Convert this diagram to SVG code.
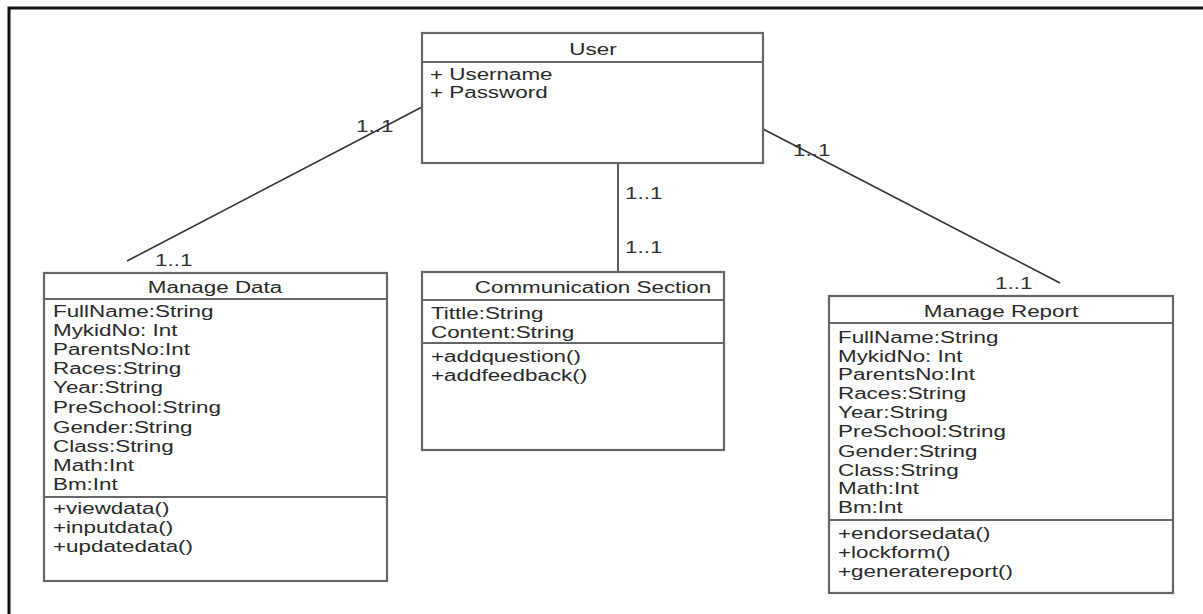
<svg xmlns="http://www.w3.org/2000/svg" width="1203" height="614" viewBox="0 0 1203 614">
<style>
  text { font-family: "Liberation Sans", Arial, sans-serif; font-size: 16px; fill: #2a2a2a; }
  .title { text-anchor: middle; }
  .box { fill: #ffffff; stroke: #666666; stroke-width: 2.2; }
  .sep { stroke: #666666; stroke-width: 2.2; fill: none; }
  .conn { stroke: #333333; stroke-width: 1.6; fill: none; }
  .mult { fill: #333333; }
</style>
<rect x="0" y="0" width="1203" height="614" fill="#ffffff"/>
<path d="M9,614 V8 H1203" fill="none" stroke="#111111" stroke-width="3"/>

<g id="connectors">
  <line class="conn" x1="422" y1="107" x2="127" y2="261"/>
  <line class="conn" x1="618" y1="163" x2="618" y2="273"/>
  <line class="conn" x1="763" y1="129" x2="1060" y2="283"/>
  <text class="mult" transform="translate(356 132) scale(1.4 1)">1..1</text>
  <text class="mult" transform="translate(155 266) scale(1.4 1)">1..1</text>
  <text class="mult" transform="translate(625 199) scale(1.4 1)">1..1</text>
  <text class="mult" transform="translate(625 253) scale(1.4 1)">1..1</text>
  <text class="mult" transform="translate(793 156) scale(1.4 1)">1..1</text>
  <text class="mult" transform="translate(995 289) scale(1.4 1)">1..1</text>
</g>

<g id="user">
  <rect class="box" x="422" y="33" width="341" height="130"/>
  <line class="sep" x1="422" y1="62" x2="763" y2="62"/>
  <text class="title" transform="translate(593 55) scale(1.4 1)">User</text>
  <g transform="translate(430 0) scale(1.4 1)">
    <text y="80">+ Username</text>
    <text y="98">+ Password</text>
  </g>
</g>

<g id="manage-data">
  <rect class="box" x="44" y="273" width="343" height="308"/>
  <line class="sep" x1="44" y1="299" x2="387" y2="299"/>
  <line class="sep" x1="44" y1="497" x2="387" y2="497"/>
  <text class="title" transform="translate(215 293) scale(1.4 1)">Manage Data</text>
  <g transform="translate(53 0) scale(1.4 1)">
    <text y="317">FullName:String</text>
    <text y="336">MykidNo: Int</text>
    <text y="355">ParentsNo:Int</text>
    <text y="374">Races:String</text>
    <text y="393">Year:String</text>
    <text y="413">PreSchool:String</text>
    <text y="433">Gender:String</text>
    <text y="452">Class:String</text>
    <text y="471">Math:Int</text>
    <text y="490">Bm:Int</text>
    <text y="514">+viewdata()</text>
    <text y="533">+inputdata()</text>
    <text y="552">+updatedata()</text>
  </g>
</g>

<g id="communication-section">
  <rect class="box" x="422" y="272" width="302" height="178"/>
  <line class="sep" x1="422" y1="300" x2="724" y2="300"/>
  <line class="sep" x1="422" y1="343" x2="724" y2="343"/>
  <text class="title" transform="translate(593 293) scale(1.4 1)">Communication Section</text>
  <g transform="translate(431 0) scale(1.4 1)">
    <text y="319">Tittle:String</text>
    <text y="338">Content:String</text>
    <text y="362">+addquestion()</text>
    <text y="381">+addfeedback()</text>
  </g>
</g>

<g id="manage-report">
  <rect class="box" x="829" y="296" width="344" height="297"/>
  <line class="sep" x1="829" y1="323" x2="1173" y2="323"/>
  <line class="sep" x1="829" y1="520" x2="1173" y2="520"/>
  <text class="title" transform="translate(1001 317) scale(1.4 1)">Manage Report</text>
  <g transform="translate(838 0) scale(1.4 1)">
    <text y="343">FullName:String</text>
    <text y="362">MykidNo: Int</text>
    <text y="380">ParentsNo:Int</text>
    <text y="399">Races:String</text>
    <text y="418">Year:String</text>
    <text y="437">PreSchool:String</text>
    <text y="457">Gender:String</text>
    <text y="476">Class:String</text>
    <text y="494">Math:Int</text>
    <text y="513">Bm:Int</text>
    <text y="539">+endorsedata()</text>
    <text y="558">+lockform()</text>
    <text y="577">+generatereport()</text>
  </g>
</g>
</svg>
